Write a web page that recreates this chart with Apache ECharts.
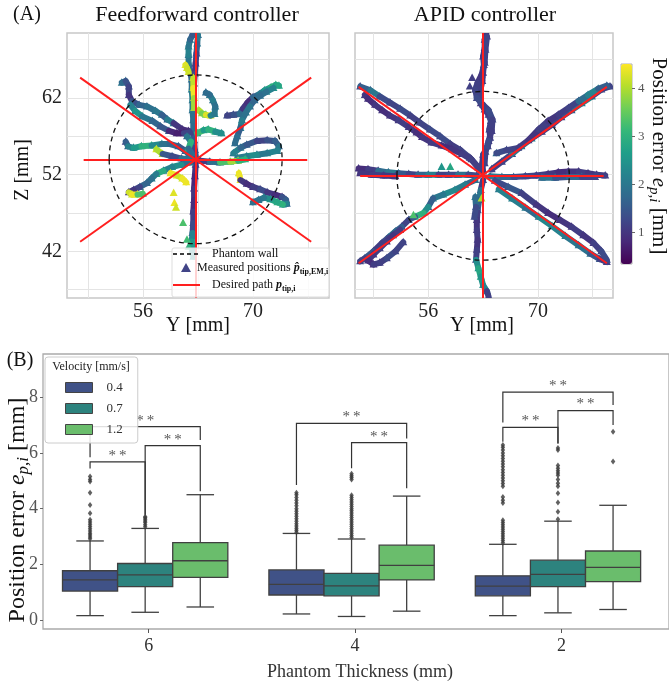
<!DOCTYPE html>
<html>
<head>
<meta charset="utf-8">
<script src="https://cdn.jsdelivr.net/npm/echarts@6/dist/echarts.min.js"></script>
<style>html,body{margin:0;padding:0;background:#fff}#chart{width:669px;height:683px}</style>
</head>
<body>
<div id="chart"></div>
<script>
// ---------- panel A: measured tip positions, [Y mm, Z mm, error mm] per track ----------
// feedforward controller
var ffUpOut = [[62.8,53.9,1.6],[62.6,55.2,1.4],[62.5,56.5,1.2],[62.4,57.8,1.5],[62.4,59.1,1.8],[62.3,60.4,1.9],[62.3,61.7,2.0],[62.2,63.1,2.1],[62.2,64.4,1.9],[62.0,65.4,1.7],[61.8,66.5,1.8],[61.8,67.6,2.0],[61.8,68.7,2.2],[62.0,69.6,2.0],[62.3,70.2,1.7],[62.8,70.4,1.5]];
var ffUpBack = [[63.0,70.2,1.8],[62.9,69.1,2.0],[62.8,67.8,1.6],[62.7,66.5,1.2],[62.6,65.2,1.0],[62.5,63.9,1.3]];
var ffYellowTop = [[61.4,66.3,4.4],[61.6,65.9,4.3],[61.8,65.4,4.2]];
var ffYellowLine = [[62.4,64.6,4.3],[62.4,63.3,4.1],[62.5,62.0,4.4],[62.5,60.7,3.9]];
var ffNearLoop = [[63.1,60.4,4.2],[63.5,60.0,4.0],[64.0,59.8,3.6],[64.6,59.7,4.3],[65.1,59.9,2.2],[65.2,60.9,2.0],[64.9,61.7,1.9],[64.5,62.4,2.1],[64.0,62.7,1.8]];
var ffMidRight = [[62.9,57.4,2.0],[63.7,57.8,3.2],[64.3,57.9,2.6],[65.2,57.6,3.0],[66.0,57.4,2.4]];
var ffUpRight = [[66.7,59.7,1.3],[67.5,59.8,1.2],[68.3,59.9,1.4],[68.7,60.6,1.8],[69.3,61.4,1.0],[70.0,62.1,0.9],[70.8,62.5,1.7],[71.5,63.0,2.1],[72.3,63.4,2.6],[72.9,63.7,3.0],[73.3,63.6,2.8]];
var ffUpRightBack = [[72.6,63.3,2.5],[71.7,62.8,2.2],[70.9,62.3,1.9],[70.2,61.7,1.8],[69.6,60.9,1.7],[69.1,60.1,2.0],[68.6,59.1,1.9],[68.4,58.1,2.1],[68.0,57.0,1.6],[67.7,56.1,1.8]];
var ffRightLoop = [[67.5,54.8,1.9],[68.4,55.5,2.2],[69.2,55.9,1.7],[70.5,56.4,1.5],[71.8,56.5,1.2],[72.8,56.4,1.4],[73.3,55.7,1.6],[73.1,55.1,2.0],[71.8,54.8,2.2],[70.5,54.6,2.0],[69.2,54.4,2.4],[68.0,54.2,2.1]];
var ffRight = [[63.3,53.8,1.4],[64.5,53.7,1.1],[65.8,53.6,1.9],[67.1,53.7,3.3],[68.1,53.8,3.9],[69.0,54.0,3.0]];
var ffDownRight = [[68.2,52.2,4.2],[68.4,51.3,4.4],[69.2,50.8,1.0],[70.0,50.4,0.9],[70.9,50.1,1.1],[71.8,49.7,1.3],[72.8,49.4,1.0],[73.7,49.1,0.9],[74.2,48.7,1.4],[74.3,48.2,1.6],[73.8,48.1,2.2],[73.1,48.4,3.0],[72.2,48.8,2.8],[71.4,49.0,2.4],[70.7,48.7,2.0],[70.0,48.4,1.9]];
var ffDown = [[62.7,53.3,1.3],[62.6,51.8,1.0],[62.5,50.2,0.8],[62.5,48.7,1.0],[62.4,47.2,0.9],[62.4,45.7,1.1],[62.3,44.4,1.3],[62.2,43.3,2.2],[62.3,42.2,2.6],[62.4,41.3,2.3]];
var ffDownLeft = [[62.0,53.6,2.0],[60.9,53.3,1.8],[59.7,53.0,2.4],[58.6,52.5,2.2],[57.7,52.1,2.9],[57.1,51.5,2.1],[56.5,50.9,1.9],[55.6,50.4,1.7],[54.8,50.0,1.2],[54.2,49.7,1.0],[54.6,49.4,4.2],[55.3,49.4,4.4],[56.0,49.5,3.3]];
var ffYellowArc = [[59.5,52.2,4.3],[60.3,51.9,4.4],[61.0,51.5,4.2],[61.5,51.0,4.4]];
var ffLeft = [[53.8,56.3,1.2],[54.1,55.7,1.6],[54.8,55.5,2.2],[55.8,55.7,2.6],[57.1,55.8,3.0],[58.4,56.0,2.3],[59.4,56.0,1.9],[60.5,55.7,1.7],[61.4,55.1,1.5],[62.0,54.4,1.8]];
var ffLeftLow = [[57.7,55.3,4.3],[58.5,54.7,4.0],[59.7,54.4,1.5],[60.9,54.1,1.3],[61.8,54.0,1.9]];
var ffUpLeft = [[53.3,64.0,2.0],[53.8,64.2,1.8],[54.2,63.5,1.4],[54.2,62.4,1.2],[54.6,61.6,1.0],[55.5,61.1,1.4],[56.5,60.9,1.7],[57.6,60.3,1.9],[58.4,59.8,2.0],[59.1,59.2,1.6],[59.9,58.7,2.1],[61.0,57.9,1.0],[61.8,57.7,0.9]];
var ffUpLeftLow = [[54.4,61.1,1.9],[55.0,60.3,2.2],[55.9,59.6,2.5],[57.2,59.0,2.0],[58.2,58.3,1.7],[59.3,57.7,1.5],[60.3,57.4,0.8],[61.2,57.4,0.7],[62.0,57.5,1.2]];
var ffCenter = [[61.6,57.0,1.6],[62.1,56.3,2.0],[61.8,55.4,3.0],[62.2,54.8,1.8]];
var ffDots = [[61.6,43.5,3.2],[61.8,42.6,3.0],[59.9,49.6,4.3],[60.0,48.3,4.4],[60.2,47.7,4.2],[61.1,45.7,3.3]];

// APID controller
var apUp = [[63.0,52.4,1.15],[62.9,53.5,1.0],[63.0,54.6,1.1],[63.6,55.7,1.2],[63.9,56.8,1.15],[63.8,57.9,1.1],[64.0,59.0,1.15],[63.7,59.8,1.3],[63.2,60.5,1.1],[62.7,61.3,1.0],[62.5,62.2,1.1],[62.7,63.2,1.2],[62.9,64.2,1.15],[63.0,65.3,1.0],[63.1,66.3,1.1],[63.0,67.4,1.15],[63.2,68.5,1.0],[63.2,69.6,1.1],[63.4,70.3,1.0]];
var apUpBack = [[63.5,70.0,1.1],[63.3,68.3,1.2],[63.2,66.6,1.15],[62.8,65.0,1.1],[62.3,64.0,1.0],[62.0,63.1,1.15],[62.2,62.0,1.2],[63.0,61.1,1.3],[63.7,60.4,1.2],[64.2,59.2,1.3],[64.1,57.7,1.15],[63.7,56.4,1.1],[63.3,55.0,1.3],[63.2,53.5,1.15]];
var apUpLeft = [[47.3,63.5,1.15],[48.6,63.0,1.6],[49.8,62.2,2.0],[51.1,61.4,1.3],[52.4,60.6,1.2],[53.7,59.7,1.3],[54.9,58.8,1.15],[56.2,57.9,1.2],[57.5,57.0,1.3],[58.8,56.0,1.3],[60.1,55.2,1.1],[61.3,54.2,1.2],[62.4,52.9,1.15]];
var apUpLeftLow = [[47.9,62.4,1.1],[48.3,61.9,1.0],[49.2,61.1,0.9],[50.1,60.4,1.0],[51.1,59.7,0.9],[52.2,59.1,1.0],[53.5,58.2,1.1],[54.5,57.5,1.0],[55.2,56.9,0.9],[56.4,56.2,1.0],[57.7,55.8,1.1],[59.0,55.3,0.9],[60.3,54.7,1.0],[61.5,54.0,1.1],[62.6,52.7,1.15]];
var apUpRight = [[64.1,52.7,1.3],[65.4,53.7,1.15],[66.7,54.7,1.2],[67.9,55.7,2.0],[69.2,56.7,2.2],[70.5,57.6,1.15],[71.8,58.5,1.1],[73.0,59.5,1.2],[74.3,60.4,1.4],[75.6,61.3,2.0],[76.9,62.2,2.3],[78.1,63.1,1.3],[79.2,63.5,1.2]];
var apUpRightHigh = [[64.7,54.8,1.8],[66.0,55.2,1.3],[67.5,55.5,1.2],[68.8,56.5,1.1],[70.1,57.9,1.0],[71.3,59.0,1.15],[72.6,59.8,1.0],[73.9,60.7,1.1],[75.2,61.6,1.2],[76.4,62.4,1.8],[77.7,63.2,2.2],[78.8,63.6,1.6]];
var apLeft = [[47.1,52.8,1.0],[48.3,52.7,0.9],[49.6,52.5,1.1],[50.9,52.3,1.8],[52.2,52.2,2.0],[53.5,52.1,1.5],[54.7,52.0,1.2],[56.0,52.0,1.7],[57.3,52.0,2.1],[58.6,52.0,1.15],[59.8,52.0,1.3],[61.1,52.0,1.9],[62.2,51.9,1.3]];
var apLeftLow = [[47.3,52.2,0.9],[48.8,52.0,1.0],[50.3,51.9,1.1],[51.8,51.8,1.0]];
var apRight = [[63.9,51.8,1.3],[65.4,51.7,2.0],[66.9,51.7,1.7],[68.4,51.8,1.3],[69.8,51.9,1.2],[71.3,52.1,1.1],[72.6,52.3,1.0],[73.9,52.4,0.9],[75.2,52.4,1.0],[76.4,52.2,1.1],[77.5,52.0,1.0],[78.6,51.9,1.15]];
var apRightLow = [[70.5,51.6,1.6],[72.2,51.6,1.9],[73.9,51.7,1.4],[75.6,51.7,1.7],[77.3,51.7,1.2]];
var apDownLeft = [[62.0,51.3,2.0],[60.7,50.7,1.8],[59.4,50.0,2.1],[57.9,49.4,2.3],[56.6,48.9,2.0],[56.0,47.8,1.6],[55.4,47.0,2.4],[54.3,46.5,3.0],[53.5,46.1,1.5],[52.6,45.2,1.2],[51.8,44.6,1.6],[50.9,43.8,1.9],[50.1,43.1,1.3],[49.0,42.0,1.1],[47.9,41.1,1.5],[47.3,40.7,1.2]];
var apDownLeftLow = [[52.4,44.8,1.15],[51.5,44.1,1.1],[50.7,43.3,1.0],[49.8,42.4,1.1],[49.0,41.6,1.15],[48.3,40.8,1.0],[49.0,40.3,0.9],[49.8,40.5,1.1],[50.7,41.1,1.15],[51.8,42.0,1.3],[52.8,43.2,1.2]];
var apDownRight = [[65.0,50.1,2.0],[66.7,48.9,2.2],[68.4,47.7,2.1],[70.1,46.5,1.8],[71.8,45.3,2.3],[73.5,44.0,2.2],[75.2,42.8,2.0],[76.7,41.7,1.9],[77.9,41.0,1.5],[78.8,40.6,1.1]];
var apDownRightHigh = [[64.5,51.2,1.2],[66.2,50.4,1.3],[67.9,49.6,1.5],[69.8,48.1,1.15],[71.3,47.0,1.0],[72.8,46.1,0.9],[74.3,45.2,1.0],[75.8,44.1,1.1],[77.1,43.1,1.0],[78.1,42.0,1.15],[78.8,40.9,1.3]];
var apDown = [[63.0,51.3,1.3],[62.7,50.0,1.15],[62.5,48.7,2.0],[62.3,47.4,1.6],[62.2,46.1,1.1],[62.2,44.8,1.0],[62.3,43.5,1.1],[62.2,42.2,1.0],[62.1,40.9,1.15],[62.4,39.8,2.4],[62.7,38.7,2.8],[63.0,37.6,2.5],[63.5,36.8,2.2],[63.7,36.1,1.15]];
var apDownSide = [[62.0,49.1,2.2],[62.1,47.8,1.8],[61.9,46.5,1.3]];
var apDots = [[61.3,63.5,1.15],[61.6,64.6,1.1],[62.8,48.9,4.0],[57.7,53.0,2.5],[58.8,53.0,2.8],[54.1,46.7,3.3]];

// desired straight paths (segment end points) and phantom wall (centre, radius)
var ffPaths = [[[48.45,53.95],[76.9,53.95]], [[62.7,35.92],[62.7,70.47]], [[48.0,64.65],[77.4,43.25]], [[48.0,43.25],[77.4,64.65]]];
var apPaths = [[[47.3,51.9],[78.4,51.9]], [[63.0,35.92],[63.0,70.47]], [[47.1,63.45],[78.8,40.45]], [[47.1,40.45],[78.8,63.45]]];
var ffWallCenter = [62.7, 54.0];
var apWallCenter = [63.0, 51.85];
var wallRadius = 11;

// ---------- panel B: box plot summaries [min, q1, median, q3, max] per thickness ----------
var thickness = ['6', '4', '2'];
var velocities = ['0.4', '0.7', '1.2'];
var box04 = [[0.16,1.04,1.44,1.77,2.84],[0.22,0.90,1.28,1.80,3.11],[0.16,0.87,1.22,1.59,2.72]];
var box07 = [[0.28,1.20,1.62,2.03,3.29],[0.13,0.87,1.23,1.68,2.91],[0.26,1.20,1.64,2.15,3.55]];
var box12 = [[0.47,1.53,2.13,2.78,4.50],[0.32,1.44,1.96,2.69,4.45],[0.38,1.38,1.89,2.48,4.12]];
var out04 = [
  [2.92,2.98,3.05,3.12,3.2,3.28,3.36,3.44,3.52,3.6,3.83,4.13,4.57,4.97,5.05,5.15],
  [3.15,3.22,3.3,3.38,3.46,3.55,3.64,3.73,3.82,3.91,4.0,4.1,4.2,4.3,4.4,4.5,4.57],
  [2.78,2.86,2.94,3.02,3.1,3.18,3.26,3.34,3.42,3.5,3.58,4.2,4.3,4.42,4.8,4.9,5.0,5.1,5.2,5.3,5.4,5.5,5.6,5.7,5.8,5.9,6.0,6.1,6.2,6.28]
];
var out07 = [
  [3.35,3.42,3.5,3.56,3.62,3.67,3.71],
  [2.96,3.04,3.12,3.2,3.28,3.36,3.44,3.52,3.6,3.68,3.76,3.84,3.92,4.0,4.08,4.16,4.24,4.32,4.4,4.48,5.05,5.12,5.18,5.25],
  [3.62,3.89,4.22,4.55,4.8,4.91,5.05,5.2,5.28,5.36,5.45,5.55,6.1,6.18]
];
var out12 = [[], [], [5.69,6.76]];
// significance brackets: [thickness idx, velocity a, velocity b, bar height, leg a end, leg b end]
var brackets = [
  [0,0,1,5.68,5.44,3.78],[0,1,2,6.26,3.78,4.62],[0,0,2,6.94,5.84,6.46],
  [1,0,2,7.06,4.85,6.52],[1,1,2,6.37,5.45,4.73],
  [2,0,2,8.18,7.09,7.72],[2,1,2,7.52,6.34,7.0],[2,0,1,6.92,6.40,6.34]
];

var FONT = "'Liberation Serif', 'DejaVu Serif', serif";
var viridis = ['#440154','#482878','#3e4989','#31688e','#26828e','#1f9e89','#35b779','#6ece58','#b5de2b','#fde725'];
var boxColors = ['#405287', '#2d837e', '#6abd6c'];
var edgeColor = '#404040';
var pathRed = '#ff1f1f';
var boxStep = 0.267;
var groupShift = -0.017;

function buildTracks(tracks, dots) {
  var out = [];
  tracks.forEach(function (t, k) {
    t.forEach(function (p) { out.push([p[0], p[1], p[2], k]); });
  });
  dots.forEach(function (p, k) { out.push([p[0], p[1], p[2], 1000 + k]); });
  return out;
}

function renderTrack(params, api) {
  var i = params.dataIndexInside;
  var pt = api.coord([api.value(0), api.value(1)]);
  var color = api.visual('color');
  var kids = [];
  if (i > 0 && api.value(3, i - 1) === api.value(3)) {
    var prev = api.coord([api.value(0, i - 1), api.value(1, i - 1)]);
    kids.push({ type: 'line', shape: { x1: prev[0], y1: prev[1], x2: pt[0], y2: pt[1] },
      style: { stroke: color, lineWidth: 6, lineCap: 'round' } });
  }
  kids.push({ type: 'polygon', shape: { points: [[pt[0], pt[1] - 4.5], [pt[0] - 4, pt[1] + 3], [pt[0] + 4, pt[1] + 3]] },
    style: { fill: color } });
  return { type: 'group', children: kids };
}

function boxX(cat, vel) { return cat + groupShift + (vel - 1) * boxStep; }

function boxRenderer(vel) {
  return function (params, api) {
    var x = boxX(api.value(0), vel);
    var lo = api.coord([x - boxStep / 2, api.value(2)]);
    var hi = api.coord([x + boxStep / 2, api.value(4)]);
    var mid = api.coord([x, api.value(3)]);
    var wMin = api.coord([x, api.value(1)]);
    var wMax = api.coord([x, api.value(5)]);
    var cap = (hi[0] - lo[0]) / 4;
    var ls = { stroke: edgeColor, lineWidth: 1.3 };
    return { type: 'group', children: [
      { type: 'line', shape: { x1: mid[0], y1: wMax[1], x2: mid[0], y2: hi[1] }, style: ls },
      { type: 'line', shape: { x1: mid[0], y1: lo[1], x2: mid[0], y2: wMin[1] }, style: ls },
      { type: 'line', shape: { x1: mid[0] - cap, y1: wMax[1], x2: mid[0] + cap, y2: wMax[1] }, style: ls },
      { type: 'line', shape: { x1: mid[0] - cap, y1: wMin[1], x2: mid[0] + cap, y2: wMin[1] }, style: ls },
      { type: 'rect', shape: { x: lo[0], y: hi[1], width: hi[0] - lo[0], height: lo[1] - hi[1] },
        style: { fill: boxColors[vel], stroke: edgeColor, lineWidth: 1.3 } },
      { type: 'line', shape: { x1: lo[0], y1: mid[1], x2: hi[0], y2: mid[1] }, style: ls }
    ] };
  };
}

function renderBracket(params, api) {
  var cat = api.value(0);
  var xa = boxX(cat, api.value(1)), xb = boxX(cat, api.value(2));
  var a0 = api.coord([xa, api.value(4)]), a1 = api.coord([xa, api.value(3)]);
  var b1 = api.coord([xb, api.value(3)]), b0 = api.coord([xb, api.value(5)]);
  return { type: 'group', children: [
    { type: 'polyline', shape: { points: [a0, a1, b1, b0] }, style: { stroke: '#333', lineWidth: 1.2, fill: null } },
    { type: 'text', style: { text: '*\u2009*', x: (a1[0] + b1[0]) / 2, y: a1[1] - 6, align: 'center', verticalAlign: 'middle',
      textAlign: 'center', textVerticalAlign: 'middle', fontSize: 15, fontFamily: FONT, fill: '#555' } }
  ] };
}

var ffData = buildTracks([ffUpOut, ffUpBack, ffYellowTop, ffYellowLine, ffNearLoop, ffMidRight, ffUpRight, ffUpRightBack,
  ffRightLoop, ffRight, ffDownRight, ffDown, ffDownLeft, ffYellowArc, ffLeft, ffLeftLow, ffUpLeft, ffUpLeftLow, ffCenter], ffDots);
var apData = buildTracks([apUp, apUpBack, apUpLeft, apUpLeftLow, apUpRight, apUpRightHigh, apLeft, apLeftLow, apRight, apRightLow,
  apDownLeft, apDownLeftLow, apDownRight, apDownRightHigh, apDown, apDownSide], apDots);

function scatterAxisX(idx, min, max) {
  return { type: 'value', gridIndex: idx, min: min, max: max,
    axisLine: { show: false, onZero: false }, axisTick: { show: false, customValues: [49, 56, 63, 70, 77] },
    axisLabel: { customValues: [56, 70], margin: 4, fontFamily: FONT, fontSize: 20, color: '#222' },
    splitLine: { show: true, lineStyle: { color: '#e4e4e4', width: 1 } } };
}
function scatterAxisY(idx, showLabel) {
  return { type: 'value', gridIndex: idx, min: 35.92, max: 70.47,
    axisLine: { show: false, onZero: false }, axisTick: { show: false, customValues: [37, 42, 47, 52, 57, 62, 67] },
    axisLabel: { show: showLabel, customValues: [42, 52, 62], margin: 5, fontFamily: FONT, fontSize: 20, color: '#222' },
    splitLine: { show: true, lineStyle: { color: '#e4e4e4', width: 1 } } };
}

var boxSeries = [box04, box07, box12].map(function (b, v) {
  return { type: 'custom', name: velocities[v], xAxisIndex: 3, yAxisIndex: 3, renderItem: boxRenderer(v),
    itemStyle: { color: boxColors[v] }, z: 3,
    data: b.map(function (s, c) { return [c].concat(s); }) };
});
var outlierSeries = [out04, out07, out12].map(function (o, v) {
  var pts = [];
  o.forEach(function (vals, c) { vals.forEach(function (val) { pts.push([boxX(c, v), val]); }); });
  return { type: 'scatter', name: 'fliers ' + velocities[v], xAxisIndex: 3, yAxisIndex: 3, symbol: 'diamond',
    symbolSize: [4.5, 6], itemStyle: { color: '#3a3a3a' }, data: pts, z: 3, silent: true };
});

var chart = echarts.init(document.getElementById('chart'), null, { renderer: 'canvas' });
var option = {
  animation: false,
  backgroundColor: '#fff',
  grid: [
    { left: 67, top: 33, width: 262, height: 265, show: true, borderColor: '#c8c8c8', borderWidth: 1.5, backgroundColor: '#fff' },
    { left: 355, top: 33, width: 258, height: 265, show: true, borderColor: '#c8c8c8', borderWidth: 1.5, backgroundColor: '#fff' },
    { left: 621, top: 64, width: 11, height: 200, show: true, borderColor: '#9a9a9a', borderWidth: 0.8 },
    { left: 43, top: 354, width: 640, height: 275, show: true, borderColor: '#aaaaaa', borderWidth: 1.3, backgroundColor: '#fff' }
  ],
  xAxis: [
    scatterAxisX(0, 46.33, 79.67),
    scatterAxisX(1, 46.64, 79.59),
    { type: 'value', gridIndex: 2, show: false, min: 0, max: 1 },
    { type: 'value', gridIndex: 3, min: -0.512, max: 2.521, position: 'bottom', axisLine: { show: false, onZero: false },
      axisTick: { show: true, customValues: [0, 1, 2], length: 4, lineStyle: { color: '#555' } },
      axisLabel: { customValues: [0, 1, 2], margin: 8, fontFamily: FONT, fontSize: 18, color: '#333',
        formatter: function (v) { return thickness[Math.round(v)]; } },
      splitLine: { show: false } }
  ],
  yAxis: [
    scatterAxisY(0, true),
    scatterAxisY(1, false),
    { type: 'value', gridIndex: 2, position: 'right', min: 0.35, max: 4.5, axisLine: { show: false, onZero: false },
      axisTick: { show: true, customValues: [1, 2, 3, 4], length: 3, lineStyle: { color: '#666' } },
      axisLabel: { customValues: [1, 2, 3, 4], margin: 6, fontFamily: FONT, fontSize: 13, color: '#555' },
      splitLine: { show: false } },
    { type: 'value', gridIndex: 3, min: -0.32, max: 9.55, position: 'left', axisLine: { show: false, onZero: false },
      axisTick: { show: true, customValues: [0, 2, 4, 6, 8], length: 3, lineStyle: { color: '#666' } },
      axisLabel: { customValues: [0, 2, 4, 6, 8], margin: 5, fontFamily: FONT, fontSize: 18, color: '#555' },
      splitLine: { show: false } }
  ],
  visualMap: [{
    type: 'continuous', min: 0.35, max: 4.5, dimension: 2, seriesIndex: [0, 1], calculable: false,
    show: true, left: 621, top: 64, itemWidth: 11, itemHeight: 200, padding: 0, orient: 'vertical',
    inRange: { color: viridis }, hoverLink: false
  }],
  legend: [{
    data: velocities, left: 45, top: 357, orient: 'vertical', icon: 'rect', itemWidth: 27, itemHeight: 10, itemGap: 8,
    padding: [24, 15, 7, 20], backgroundColor: 'rgba(255,255,255,0.85)', borderColor: '#cccccc', borderWidth: 1, borderRadius: 3,
    itemStyle: { borderColor: '#444', borderWidth: 1 },
    textStyle: { fontFamily: FONT, fontSize: 13, color: '#333', padding: [0, 0, 0, 9] },
    selectedMode: false, z: 10
  }],
  series: [
    { type: 'custom', name: 'Measured positions', xAxisIndex: 0, yAxisIndex: 0, renderItem: renderTrack,
      encode: { x: 0, y: 1 }, data: ffData, clip: true, z: 2, silent: true },
    { type: 'custom', name: 'Measured positions', xAxisIndex: 1, yAxisIndex: 1, renderItem: renderTrack,
      encode: { x: 0, y: 1 }, data: apData, clip: true, z: 2, silent: true },
    { type: 'lines', name: 'Desired path', coordinateSystem: 'cartesian2d', xAxisIndex: 0, yAxisIndex: 0,
      data: ffPaths.map(function (s) { return { coords: s }; }), lineStyle: { color: pathRed, width: 2, opacity: 1 }, z: 4, silent: true },
    { type: 'lines', name: 'Desired path', coordinateSystem: 'cartesian2d', xAxisIndex: 1, yAxisIndex: 1,
      data: apPaths.map(function (s) { return { coords: s }; }), lineStyle: { color: pathRed, width: 2, opacity: 1 }, z: 4, silent: true },
    { type: 'custom', name: 'brackets', xAxisIndex: 3, yAxisIndex: 3, renderItem: renderBracket, data: brackets, z: 2, silent: true }
  ].concat(boxSeries, outlierSeries)
};
chart.setOption(option);

function wallEllipse(gridIdx, c) {
  var p0 = chart.convertToPixel({ xAxisIndex: gridIdx, yAxisIndex: gridIdx }, c);
  var px = chart.convertToPixel({ xAxisIndex: gridIdx, yAxisIndex: gridIdx }, [c[0] + wallRadius, c[1]]);
  var py = chart.convertToPixel({ xAxisIndex: gridIdx, yAxisIndex: gridIdx }, [c[0], c[1] + wallRadius]);
  return { type: 'ellipse', shape: { cx: p0[0], cy: p0[1], rx: px[0] - p0[0], ry: p0[1] - py[1] },
    style: { fill: null, stroke: '#111', lineWidth: 1.3, lineDash: [5, 4] }, z: 50, silent: true };
}

function label(text, x, y, size, opts) {
  opts = opts || {};
  return { type: 'text', x: x, y: y, rotation: opts.rotation || 0, z: 60, silent: true,
    style: { text: text, fontFamily: FONT, fontSize: size, fill: opts.color || '#111',
      align: opts.align || 'center', verticalAlign: 'middle', textAlign: opts.align || 'center', textVerticalAlign: 'middle',
      rich: opts.rich } };
}
function mathRich(size) {
  return {
    n: { fontFamily: FONT, fontSize: size, lineHeight: size + 4, fill: '#111' },
    i: { fontFamily: FONT, fontSize: size, fontStyle: 'italic', lineHeight: size + 4, fill: '#111' },
    s: { fontFamily: FONT, fontSize: Math.round(size * 0.7), fontStyle: 'italic', lineHeight: Math.round(size * 0.65), verticalAlign: 'bottom', fill: '#111' }
  };
}
var legRich = {
  n: { fontFamily: FONT, fontSize: 12, lineHeight: 15, fill: '#111' },
  b: { fontFamily: FONT, fontSize: 12, fontWeight: 'bold', fontStyle: 'italic', lineHeight: 15, fill: '#111' },
  s: { fontFamily: FONT, fontSize: 8, fontWeight: 'bold', lineHeight: 8, verticalAlign: 'bottom', fill: '#111' }
};

chart.setOption({
  graphic: [
    wallEllipse(0, ffWallCenter),
    wallEllipse(1, apWallCenter),
    label('(A)', 27, 15, 20),
    label('Feedforward controller', 197, 15, 22),
    label('APID controller', 485, 15, 22),
    label('Z [mm]', 23, 170, 20, { rotation: Math.PI / 2 }),
    label('Y [mm]', 198, 326, 20),
    label('Y [mm]', 482, 326, 20),
    label('{n|Position error }{i|e}{s|p,i}{n| [mm]}', 659, 156, 21, { rotation: -Math.PI / 2, rich: mathRich(21) }),
    label('(B)', 20, 361, 20),
    label('{n|Position error }{i|e}{s|p,i}{n| [mm]}', 18, 510, 24, { rotation: Math.PI / 2, rich: mathRich(24) }),
    label('Phantom Thickness (mm)', 360, 672, 18, { color: '#333' }),
    label('Velocity [mm/s]', 91, 367, 12, { color: '#222' }),
    // legend of panel A
    { type: 'rect', z: 55, silent: true, shape: { x: 172, y: 248, width: 157, height: 49, r: 2 },
      style: { fill: 'rgba(255,255,255,0.8)', stroke: '#dddddd', lineWidth: 1 } },
    { type: 'line', z: 60, silent: true, shape: { x1: 173, y1: 254, x2: 198, y2: 254 },
      style: { stroke: '#000', lineWidth: 1.3, lineDash: [4, 3] } },
    label('Phantom wall', 212, 254, 12, { align: 'left' }),
    { type: 'polygon', z: 60, silent: true, shape: { points: [[186, 263], [181, 272], [191, 272]] }, style: { fill: '#414487' } },
    label('{n|Measured positions }{b|p\u0302}{s|tip,EM,i}', 197, 268, 12, { align: 'left', rich: legRich }),
    { type: 'line', z: 60, silent: true, shape: { x1: 173, y1: 285, x2: 200, y2: 285 }, style: { stroke: pathRed, lineWidth: 2 } },
    label('{n|Desired path }{b|p}{s|tip,i}', 212, 285, 12, { align: 'left', rich: legRich })
  ]
});
</script>
</body>
</html>
